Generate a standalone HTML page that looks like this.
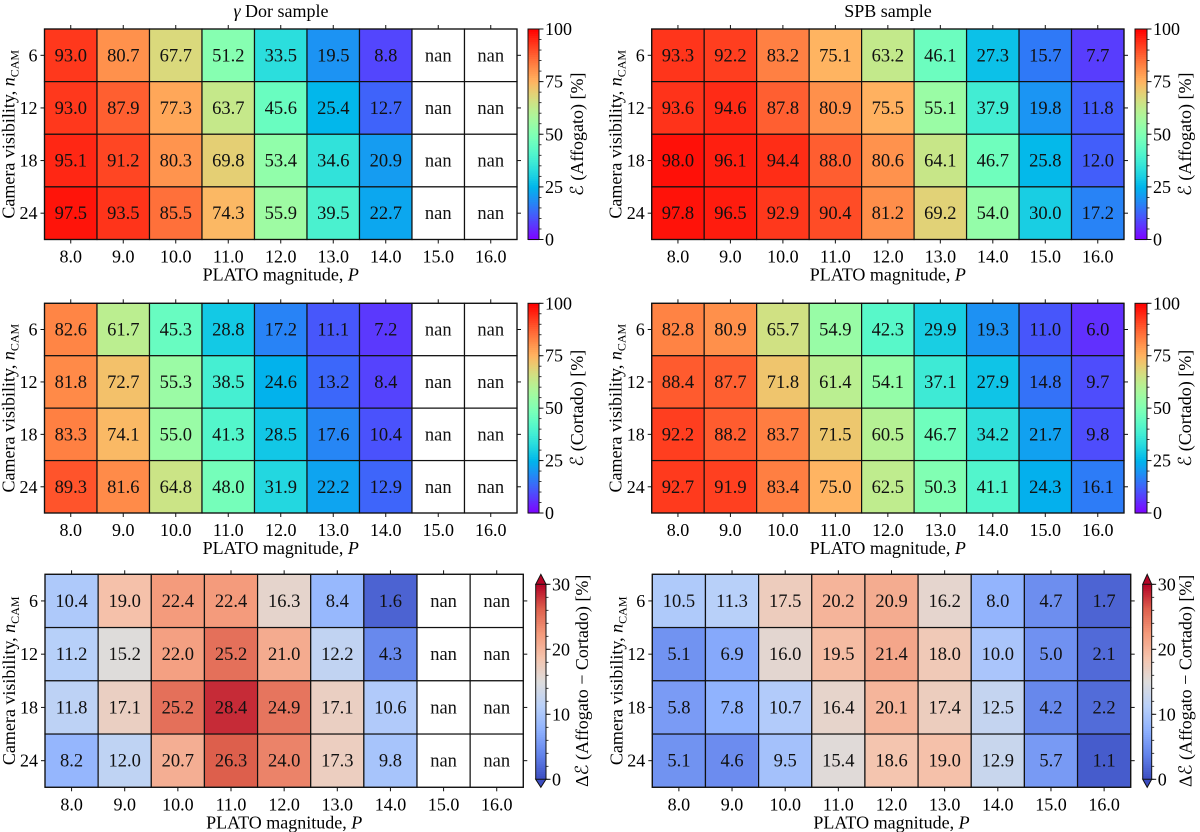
<!DOCTYPE html>
<html><head><meta charset="utf-8"><style>
html,body{margin:0;padding:0;background:#fff;}
svg{display:block;font-family:"Liberation Serif","DejaVu Serif",serif;}
svg text{font-family:"Liberation Serif","DejaVu Serif",serif;}
</style></head><body>
<svg id="fig" width="1200" height="832" viewBox="0 0 1200 832" xmlns="http://www.w3.org/2000/svg"></svg>
<script>
const magnitudes = [8.0, 9.0, 10.0, 11.0, 12.0, 13.0, 14.0, 15.0, 16.0];
const nCams = [6, 12, 18, 24];
const N = null;
const gdorAffogato = [
 [93.0,80.7,67.7,51.2,33.5,19.5,8.8,N,N],
 [93.0,87.9,77.3,63.7,45.6,25.4,12.7,N,N],
 [95.1,91.2,80.3,69.8,53.4,34.6,20.9,N,N],
 [97.5,93.5,85.5,74.3,55.9,39.5,22.7,N,N]];
const spbAffogato = [
 [93.3,92.2,83.2,75.1,63.2,46.1,27.3,15.7,7.7],
 [93.6,94.6,87.8,80.9,75.5,55.1,37.9,19.8,11.8],
 [98.0,96.1,94.4,88.0,80.6,64.1,46.7,25.8,12.0],
 [97.8,96.5,92.9,90.4,81.2,69.2,54.0,30.0,17.2]];
const gdorCortado = [
 [82.6,61.7,45.3,28.8,17.2,11.1,7.2,N,N],
 [81.8,72.7,55.3,38.5,24.6,13.2,8.4,N,N],
 [83.3,74.1,55.0,41.3,28.5,17.6,10.4,N,N],
 [89.3,81.6,64.8,48.0,31.9,22.2,12.9,N,N]];
const spbCortado = [
 [82.8,80.9,65.7,54.9,42.3,29.9,19.3,11.0,6.0],
 [88.4,87.7,71.8,61.4,54.1,37.1,27.9,14.8,9.7],
 [92.2,88.2,83.7,71.5,60.5,46.7,34.2,21.7,9.8],
 [92.7,91.9,83.4,75.0,62.5,50.3,41.1,24.3,16.1]];
const gdorDiff = [
 [10.4,19.0,22.4,22.4,16.3,8.4,1.6,N,N],
 [11.2,15.2,22.0,25.2,21.0,12.2,4.3,N,N],
 [11.8,17.1,25.2,28.4,24.9,17.1,10.6,N,N],
 [8.2,12.0,20.7,26.3,24.0,17.3,9.8,N,N]];
const spbDiff = [
 [10.5,11.3,17.5,20.2,20.9,16.2,8.0,4.7,1.7],
 [5.1,6.9,16.0,19.5,21.4,18.0,10.0,5.0,2.1],
 [5.8,7.8,10.7,16.4,20.1,17.4,12.5,4.2,2.2],
 [5.1,4.6,9.5,15.4,18.6,19.0,12.9,5.7,1.1]];
const effTicks = [0,25,50,75,100];
const diffTicks = [0,10,20,30];

const NS="http://www.w3.org/2000/svg";
const FF='"Liberation Serif","DejaVu Serif",serif';
const svg=document.getElementById('fig');
function mk(tag,attrs,parent){const e=document.createElementNS(NS,tag);for(const k in attrs)e.setAttribute(k,attrs[k]);if(tag==='text')e.setAttribute('font-family',FF);(parent||svg).appendChild(e);return e;}
function cl(v){return Math.max(0,Math.min(1,v));}
function rainbow(t){t=cl(t);const r=cl(Math.abs(2*t-0.5)),g=cl(Math.sin(Math.PI*t)),b=cl(Math.cos(Math.PI/2*t));return `rgb(${Math.round(r*255)},${Math.round(g*255)},${Math.round(b*255)})`;}
const cw=[[59,76,192],[98,130,234],[141,176,254],[184,208,249],[221,221,221],[245,196,173],[244,154,123],[222,96,77],[180,4,38]];
function coolwarm(t){t=cl(t);const p=t*8,i=Math.min(7,Math.floor(p)),f=p-i;const a=cw[i],b=cw[i+1];return `rgb(${Math.round(a[0]+(b[0]-a[0])*f)},${Math.round(a[1]+(b[1]-a[1])*f)},${Math.round(a[2]+(b[2]-a[2])*f)})`;}

function panel(o){
  const g=mk('g',{});
  
  
  const nc=magnitudes.length,nr=nCams.length;
  const cwid=(o.x1-o.x0)/nc,rh=(o.y1-o.y0)/nr;
  const xs=i=>o.x0+i*cwid, ys=j=>o.y0+j*rh;
  for(let j=0;j<nr;j++)for(let i=0;i<nc;i++){
    const v=o.data[j][i];
    const r=mk('rect',{x:xs(i),y:ys(j),width:cwid,height:rh,fill:v===null?'#fff':o.cmap(v/o.vmax),stroke:'#111','stroke-width':1.2},g);
    
    
    const t=mk('text',{x:xs(i)+cwid/2,y:ys(j)+rh/2+6,'text-anchor':'middle','font-size':18.5,fill:'#111'},g);
    t.textContent=v===null?'nan':v.toFixed(1);
    
    
  }
  mk('rect',{x:o.x0,y:o.y0,width:o.x1-o.x0,height:o.y1-o.y0,fill:'none',stroke:'#111','stroke-width':1.2},g);
  for(let i=0;i<nc;i++){
    const cx=xs(i)+cwid/2;
    mk('line',{x1:cx,x2:cx,y1:o.y1,y2:o.y1+4,stroke:'#111'},g);
    mk('line',{x1:cx,x2:cx,y1:o.y0,y2:o.y0-4,stroke:'#111'},g);
    const t=mk('text',{x:cx,y:o.y1+23,'text-anchor':'middle','font-size':18},g);
    t.textContent=magnitudes[i].toFixed(1);
    
    
  }
  for(let j=0;j<nr;j++){
    const cy=ys(j)+rh/2;
    mk('line',{x1:o.x0-4,x2:o.x0,y1:cy,y2:cy,stroke:'#111'},g);
    mk('line',{x1:o.x1,x2:o.x1+4,y1:cy,y2:cy,stroke:'#111'},g);
    const t=mk('text',{x:o.x0-7,y:cy+6,'text-anchor':'end','font-size':18},g);
    t.textContent=nCams[j];
    
    
  }
  const xl=mk('text',{x:(o.x0+o.x1)/2,y:o.y1+41,'text-anchor':'middle','font-size':18},g);
  xl.appendChild(document.createTextNode('PLATO magnitude, '));
  const xp=mk('tspan',{'font-style':'italic'},xl); xp.textContent='P';
  
  
  const yc=(o.y0+o.y1)/2,yx=o.x0-30;
  const yl=mk('text',{x:yx,y:yc,'text-anchor':'middle','font-size':18,transform:`rotate(-90 ${yx} ${yc})`},g);
  yl.appendChild(document.createTextNode('Camera visibility, '));
  const yn=mk('tspan',{'font-style':'italic'},yl); yn.textContent='n';
  const ys2=mk('tspan',{'font-size':12,dy:4},yl); ys2.textContent='CAM';
  
  
  const cb=mk('g',{},g);
  
  
  const by0=o.cby0,by1=o.cby1,bx0=o.cbx0,bx1=o.cbx1;
  const steps=100;
  for(let k=0;k<steps;k++){
    const t0=k/steps;
    mk('rect',{x:bx0,y:by1-(k+1)/steps*(by1-by0),width:bx1-bx0,height:(by1-by0)/steps+0.6,fill:o.cmap(t0+0.005)},cb);
  }
  if(o.extend){
    const mx=(bx0+bx1)/2;
    mk('polygon',{points:`${bx0},${by0} ${mx},${o.y0} ${bx1},${by0}`,fill:o.cmap(1),stroke:'#111','stroke-width':1},cb);
    mk('polygon',{points:`${bx0},${by1} ${mx},${o.y1} ${bx1},${by1}`,fill:o.cmap(0),stroke:'#111','stroke-width':1},cb);
    mk('polyline',{points:`${bx0},${by0} ${bx0},${by1}`,stroke:'#111',fill:'none'},cb);
    mk('polyline',{points:`${bx1},${by0} ${bx1},${by1}`,stroke:'#111',fill:'none'},cb);
  } else {
    mk('rect',{x:bx0,y:by0,width:bx1-bx0,height:by1-by0,fill:'none',stroke:'#111','stroke-width':1},cb);
  }
  const vy=v=>by1-v/o.vmax*(by1-by0);
  for(let v=0;v<=o.vmax+1e-9;v+=o.minor){
    mk('line',{x1:bx1,x2:bx1+2.5,y1:vy(v),y2:vy(v),stroke:'#111','stroke-width':0.8},cb);
  }
  o.ticks.forEach(v=>{
    mk('line',{x1:bx1,x2:bx1+4.5,y1:vy(v),y2:vy(v),stroke:'#111'},cb);
    const t=mk('text',{x:bx1+6,y:vy(v)+6,'font-size':18},cb);
    t.textContent=v;
    
    
  });
  const lx=bx1+o.lblOff,ly=(o.y0+o.y1)/2;
  const cl2=mk('text',{x:lx,y:ly,'text-anchor':'middle','font-size':18,transform:`rotate(-90 ${lx} ${ly})`},cb);
  cl2.textContent=o.label;
  
  
}

const rowTop={y0:29,y1:239.5,cby0:29,cby1:239.5}, rowMid={y0:303.3,y1:513,cby0:303.3,cby1:513}, rowBot={y0:574.3,y1:787.3,cby0:584.3,cby1:779.3};
panel(Object.assign({name:'gdor-affogato-heatmap',x0:44.5,x1:517,cbx0:528,cbx1:539,data:gdorAffogato,cmap:rainbow,vmax:100,ticks:effTicks,minor:5,label:'ℰ (Affogato) [%]',lblOff:44,extend:false},rowTop));
panel(Object.assign({name:'spb-affogato-heatmap',x0:651.7,x1:1124,cbx0:1135,cbx1:1147,data:spbAffogato,cmap:rainbow,vmax:100,ticks:effTicks,minor:5,label:'ℰ (Affogato) [%]',lblOff:44,extend:false},rowTop));
panel(Object.assign({name:'gdor-cortado-heatmap',x0:44.5,x1:517,cbx0:528,cbx1:539,data:gdorCortado,cmap:rainbow,vmax:100,ticks:effTicks,minor:5,label:'ℰ (Cortado) [%]',lblOff:44,extend:false},rowMid));
panel(Object.assign({name:'spb-cortado-heatmap',x0:651.7,x1:1124,cbx0:1135,cbx1:1147,data:spbCortado,cmap:rainbow,vmax:100,ticks:effTicks,minor:5,label:'ℰ (Cortado) [%]',lblOff:44,extend:false},rowMid));
panel(Object.assign({name:'gdor-difference-heatmap',x0:45,x1:523.3,cbx0:535.7,cbx1:546,data:gdorDiff,cmap:coolwarm,vmax:30,ticks:diffTicks,minor:2,label:'Δℰ (Affogato − Cortado) [%]',lblOff:42,extend:true},rowBot));
panel(Object.assign({name:'spb-difference-heatmap',x0:652.3,x1:1130.7,cbx0:1142.7,cbx1:1151.7,data:spbDiff,cmap:coolwarm,vmax:30,ticks:diffTicks,minor:2,label:'Δℰ (Affogato − Cortado) [%]',lblOff:40,extend:true},rowBot));

const t1=mk('text',{x:281,y:17,'text-anchor':'middle','font-size':18});
const tg=mk('tspan',{'font-style':'italic'},t1); tg.textContent='γ';
t1.appendChild(document.createTextNode(' Dor sample'));


const t2=mk('text',{x:888,y:17,'text-anchor':'middle','font-size':18});
t2.textContent='SPB sample';


</script>
</body></html>
